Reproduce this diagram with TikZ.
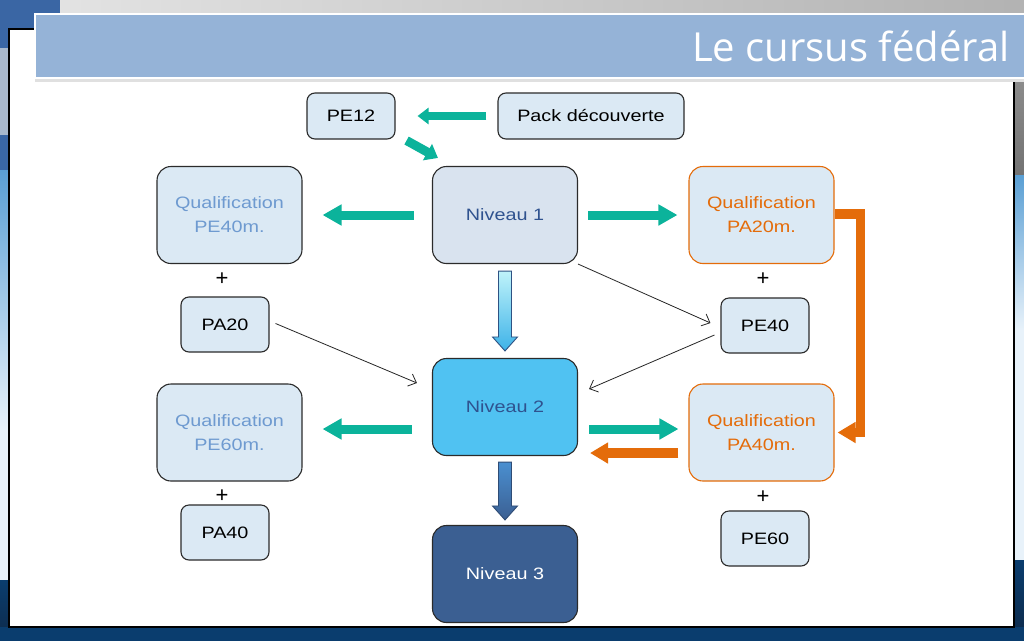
\documentclass[tikz,border=0pt]{standalone}
\usepackage{fontspec}
\setmainfont{Liberation Sans}
\newfontfamily\boxfont[FakeStretch=1.2]{Liberation Sans}
\newfontfamily\titlefont{Open Sans}
\usepackage{tikz}
\usetikzlibrary{arrows.meta,calc,positioning}

\definecolor{boxfill}{HTML}{DBE9F4}
\definecolor{boxline}{HTML}{2B2B2B}
\definecolor{nivfill}{HTML}{D9E3EF}
\definecolor{nivtwo}{HTML}{50C2F2}
\definecolor{nivthree}{HTML}{3B5F92}
\definecolor{nivtext}{HTML}{2F528F}
\definecolor{qualtext}{HTML}{6E9AD0}
\definecolor{orangeq}{HTML}{E46C0A}
\definecolor{tealq}{HTML}{0BB39B}
\definecolor{titlebar}{HTML}{95B3D7}
\definecolor{deepblue}{HTML}{3A66A4}
\definecolor{greyblue}{HTML}{A8B8CC}
\definecolor{skyblue}{HTML}{5A9FD4}
\definecolor{paleblue}{HTML}{E8F2FA}
\definecolor{navy}{HTML}{0E2A4A}
\definecolor{seablue}{HTML}{0A3D6E}
\definecolor{brightsea}{HTML}{1E9EE0}
\definecolor{arrowtop}{HTML}{BFF3FA}
\definecolor{arrowbot}{HTML}{3DB2E8}
\definecolor{arrowtwo}{HTML}{4A8FD0}

\tikzset{
  box/.style={draw=boxline, line width=1.1pt, fill=boxfill, inner sep=0pt,
    align=center, font=\boxfont\fontsize{16.5}{24}\selectfont},
  smallbox/.style={box, minimum width=88pt, minimum height=55pt, rounded corners=8pt},
  bigbox/.style={box, minimum width=145pt, minimum height=97pt, rounded corners=14pt},
  qualpe/.style={bigbox, text=qualtext},
  qualpa/.style={bigbox, draw=orangeq, text=orangeq},
  plus/.style={font=\fontsize{22}{22}\selectfont},
  tealarrow/.style={draw=tealq, line width=9pt, -{Triangle[length=19pt,width=20pt]}},
  orangearrow/.style={draw=orangeq, line width=9.5pt, line join=miter, -{Triangle[length=18pt,width=20pt]}},
  thinarrow/.style={draw=black!85, line width=0.8pt, -{Straight Barb[length=7pt,width=13pt]}}
}

\newcommand{\blockarrow}[5]{%
  \shade[top color=#3, bottom color=#4, draw=#5, line width=0.9pt]
    ($(#1)+(-6.5,0)$) -- ($(#2)+(-6.5,-14)$) -- ($(#2)+(-12.5,-14)$) -- (#2)
    -- ($(#2)+(12.5,-14)$) -- ($(#2)+(6.5,-14)$) -- ($(#1)+(6.5,0)$) -- cycle;}

\begin{document}
\begin{tikzpicture}[x=1pt,y=-1pt]
\useasboundingbox (0,0) rectangle (1024,640);

% slide frame
\shade[left color=black!10, right color=black!30] (0,0) rectangle (1024,14);
\fill[deepblue] (0,0) rectangle (60,48);
\fill[greyblue] (0,48) rectangle (9,135);
\fill[deepblue] (0,135) rectangle (9,170);
\shade[top color=skyblue, bottom color=paleblue] (0,170) rectangle (9,430);
\fill[paleblue] (0,430) rectangle (9,580);
\shade[top color=seablue, bottom color=navy] (0,580) rectangle (9,640);
\shade[top color=black!45, bottom color=black!55] (1014,78) rectangle (1024,175);
\shade[top color=skyblue, bottom color=paleblue] (1014,175) rectangle (1024,330);
\fill[paleblue] (1014,330) rectangle (1024,560);
\shade[top color=seablue, bottom color=navy] (1014,560) rectangle (1024,640);
\shade[left color=seablue, middle color=brightsea, right color=seablue] (0,627) rectangle (1024,640);
\draw[line width=1.5pt, fill=white] (9,29) rectangle (1014,627);

% title bar
\fill[black!12] (35,78) rectangle (1024,82);
\draw[white, line width=2pt, fill=titlebar] (35,14) rectangle (1030,78);
\node[anchor=base east, text=white, font=\titlefont\fontsize{40}{40}\selectfont] (title) at (1013,61) {Le cursus fédéral};

% nodes
\node[smallbox, minimum height=46pt] (pe12) at (351,116) {PE12};
\node[smallbox, minimum width=186pt, minimum height=46pt] (pack) at (591,116) {Pack découverte};

\node[bigbox, fill=nivfill, text=nivtext] (niv1) at (505,215) {Niveau 1};
\node[bigbox, fill=nivtwo, text=nivtext] (niv2) at (505,407) {Niveau 2};
\node[bigbox, fill=nivthree, text=white] (niv3) at (505,574) {Niveau 3};

\node[qualpe] (qpe40) at (229.5,215) {Qualification\\PE40m.};
\node[qualpe] (qpe60) at (229.5,432.5) {Qualification\\PE60m.};
\node[qualpa] (qpa20) at (761.5,215) {Qualification\\PA20m.};
\node[qualpa] (qpa40) at (761.5,432.5) {Qualification\\PA40m.};

\node[plus] (plus1) at (222,279) {+};
\node[plus] (plus2) at (763,279) {+};
\node[plus] (plus3) at (222,496) {+};
\node[plus] (plus4) at (763,497) {+};

\node[smallbox] (pa20) at (225,324.5) {PA20};
\node[smallbox] (pe40) at (765,325.5) {PE40};
\node[smallbox] (pa40) at (225,532.5) {PA40};
\node[smallbox] (pe60) at (765,538.5) {PE60};

% arrows
\draw[tealarrow, line width=8pt, -{Triangle[length=11pt,width=16pt]}] ([shift={(-11,0)}]pack.west) -- ([shift={(22,0)}]pe12.east);
\draw[tealarrow, -{Triangle[length=12pt,width=18pt]}] ([shift={(11,1)}]pe12.south east) -- ([shift={(6,-8)}]niv1.north west);

\draw[tealarrow] ([shift={(-18,0)}]niv1.west) -- ([shift={(20,0)}]qpe40.east);
\draw[tealarrow] ([shift={(10,0)}]niv1.east) -- ([shift={(-11,0)}]qpa20.west);
\draw[tealarrow] ([shift={(-20,22)}]niv2.west) -- ([shift={(20,-3.5)}]qpe60.east);
\draw[tealarrow] ([shift={(11,22)}]niv2.east) -- ([shift={(-10,-3.5)}]qpa40.west);
\draw[orangearrow] ([shift={(-10,20.5)}]qpa40.west) -- ([shift={(12,46)}]niv2.east);
\draw[orangearrow] ([shift={(0,-1)}]qpa20.east) -| ([shift={(26,0)}]qpa40.east) -- ([shift={(3,0)}]qpa40.east);

\blockarrow{$(niv1.south)+(0,7)$}{$(niv2.north)+(0,-7)$}{arrowtop}{arrowbot}{deepblue!80!black}
\blockarrow{$(niv2.south)+(0,6)$}{$(niv3.north)+(0,-5)$}{arrowtwo}{nivthree}{nivthree!80!black}

\draw[thinarrow] ([shift={(6,-1)}]pa20.east) -- ([shift={(-15,-24)}]niv2.west);
\draw[thinarrow] (niv1.south east) -- ([shift={(-10,-2.5)}]pe40.west);
\draw[thinarrow] ([shift={(-6,9.5)}]pe40.west) -- ([shift={(11,-18)}]niv2.east);

\end{tikzpicture}
\end{document}
